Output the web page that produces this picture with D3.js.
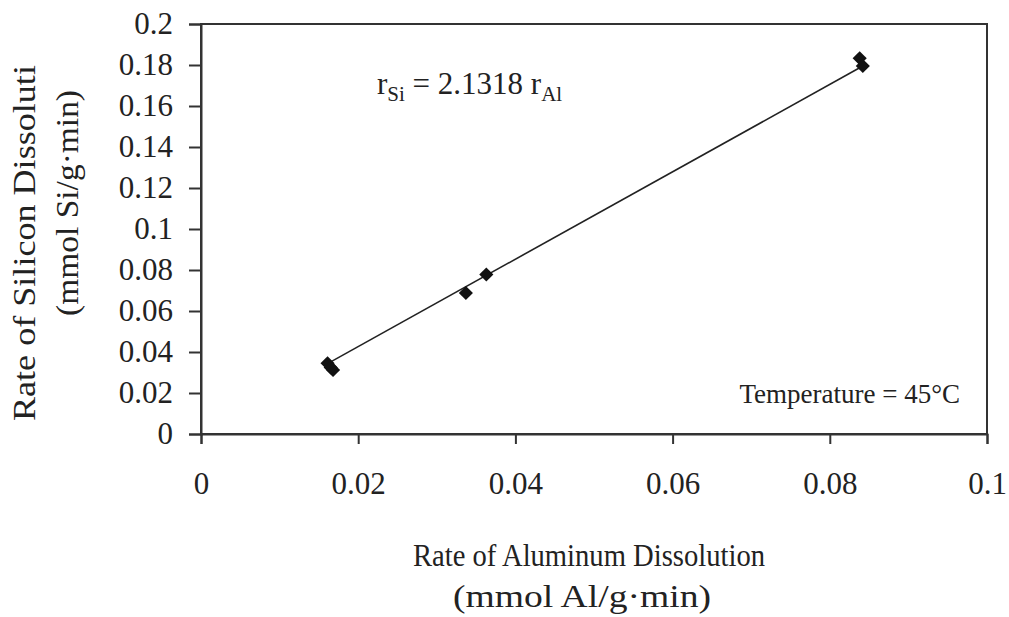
<!DOCTYPE html>
<html lang="en">
<head>
  <meta charset="UTF-8">
  <title>Si vs Al dissolution rate</title>
  <style>
    body { margin: 0; background: #fff; }
    text { font-family: "Liberation Serif", "Times New Roman", serif; fill: #222; }
  </style>
</head>
<body>
  <svg width="1009" height="617"></svg>

  <script src="https://cdn.jsdelivr.net/npm/d3@7/dist/d3.min.js"></script>
  <script>
    // data
    const rateAl = [0.0161, 0.0168, 0.0165, 0.0337, 0.0363, 0.0838, 0.0842];
    const rateSi = [0.0345, 0.0312, 0.0325, 0.0688, 0.0778, 0.1833, 0.1795];
    const slope = 2.1318;
    const xTicks = [0, 0.02, 0.04, 0.06, 0.08, 0.1];
    const yTicks = [0, 0.02, 0.04, 0.06, 0.08, 0.1, 0.12, 0.14, 0.16, 0.18, 0.2];

    const svg = d3.select("svg");
    const m = { left: 201, right: 987, top: 24, bottom: 434 };

    const x = d3.scaleLinear().domain([0, 0.1]).range([m.left, m.right]);
    const y = d3.scaleLinear().domain([0, 0.2]).range([m.bottom, m.top]);

    // plot box
    svg.append("rect")
      .attr("x", m.left).attr("y", m.top)
      .attr("width", m.right - m.left).attr("height", m.bottom - m.top)
      .attr("fill", "none").attr("stroke", "#333").attr("stroke-width", 2);

    const fmt = d => String(+d.toFixed(2));

    // y axis
    const gy = svg.append("g")
      .attr("transform", `translate(${m.left},0)`)
      .call(d3.axisLeft(y).tickValues(yTicks).tickSize(12).tickPadding(16).tickFormat(fmt));
    gy.select(".domain").attr("stroke", "#333").attr("stroke-width", 2);
    gy.selectAll(".tick line").attr("stroke", "#333").attr("stroke-width", 2);
    gy.selectAll(".tick text").attr("font-size", 31).attr("font-family", "Liberation Serif").attr("fill", "#222");

    // x axis
    const gx = svg.append("g")
      .attr("transform", `translate(0,${m.bottom})`)
      .call(d3.axisBottom(x).tickValues(xTicks).tickSize(10).tickPadding(28).tickFormat(fmt));
    gx.select(".domain").attr("stroke", "#333").attr("stroke-width", 2);
    gx.selectAll(".tick line").attr("stroke", "#333").attr("stroke-width", 2);
    gx.selectAll(".tick text").attr("font-size", 31).attr("font-family", "Liberation Serif").attr("fill", "#222");

    // fitted line r_Si = slope * r_Al
    const x0 = d3.min(rateAl), x1 = d3.max(rateAl);
    svg.append("line")
      .attr("x1", x(x0)).attr("y1", y(slope * x0))
      .attr("x2", x(x1)).attr("y2", y(slope * x1))
      .attr("stroke", "#222").attr("stroke-width", 1.6);

    // diamonds
    const diamond = d3.symbol().type(d3.symbolSquare).size(100);
    svg.append("g").selectAll("path")
      .data(rateAl.map((a, i) => [a, rateSi[i]]))
      .join("path")
      .attr("d", diamond)
      .attr("transform", d => `translate(${x(d[0])},${y(d[1])}) rotate(45)`)
      .attr("fill", "#111");

    // equation
    const eq = svg.append("text").attr("x", 377).attr("y", 94).attr("font-size", 31);
    eq.append("tspan").text("r");
    eq.append("tspan").attr("font-size", 21).attr("dy", 7).text("Si");
    eq.append("tspan").attr("dy", -7).text(" = 2.1318 r");
    eq.append("tspan").attr("font-size", 21).attr("dy", 7).text("Al");

    svg.append("text")
      .attr("x", 960).attr("y", 403).attr("text-anchor", "end")
      .attr("font-size", 27).text("Temperature = 45°C");

    // axis titles
    svg.append("text")
      .attr("x", 589).attr("y", 566).attr("text-anchor", "middle")
      .attr("font-size", 31).attr("textLength", 352).attr("lengthAdjust", "spacingAndGlyphs")
      .text("Rate of Aluminum Dissolution");
    svg.append("text")
      .attr("x", 582).attr("y", 607).attr("text-anchor", "middle")
      .attr("font-size", 31).attr("textLength", 258).attr("lengthAdjust", "spacingAndGlyphs")
      .text("(mmol Al/g\u00b7min)");

    svg.append("clipPath").attr("id", "ylab")
      .append("rect").attr("x", 0).attr("y", 64).attr("width", 120).attr("height", 500);
    const yl = svg.append("g").attr("clip-path", "url(#ylab)");
    yl.append("text")
      .attr("transform", "translate(35,421) rotate(-90)")
      .attr("font-size", 32).attr("textLength", 392).attr("lengthAdjust", "spacingAndGlyphs")
      .text("Rate of Silicon Dissolution");
    yl.append("text")
      .attr("transform", "translate(78,203) rotate(-90)")
      .attr("text-anchor", "middle")
      .attr("font-size", 32).attr("textLength", 226).attr("lengthAdjust", "spacingAndGlyphs")
      .text("(mmol Si/g\u00b7min)");
  </script>
</body>
</html>
